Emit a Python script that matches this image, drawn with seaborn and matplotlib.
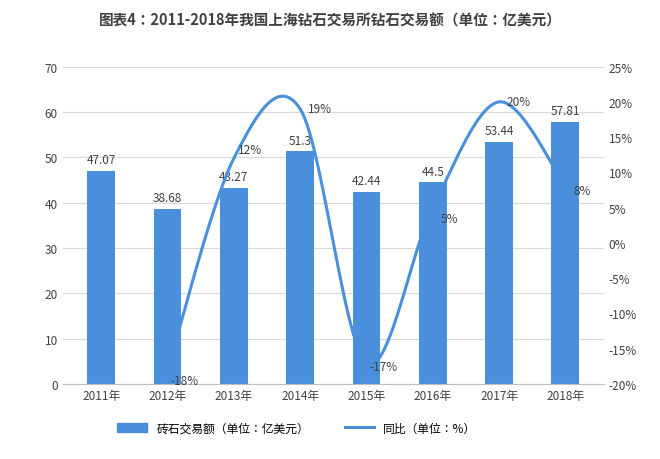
import numpy as np
import matplotlib
matplotlib.use("Agg")
import matplotlib.pyplot as plt
from matplotlib import font_manager as fm
import seaborn as sns
import pandas as pd

cjk = sorted({f.name for f in fm.fontManager.ttflist if "CJK" in f.name})
sans = [n for n in cjk if "Sans" in n]
fam = next((n for n in sans if n.endswith("SC")), sans[0] if sans else (cjk[0] if cjk else "DejaVu Sans"))
plt.rcParams["font.family"] = [fam, "DejaVu Sans"]

years = ["2011年", "2012年", "2013年", "2014年", "2015年", "2016年", "2017年", "2018年"]
amount = [47.07, 38.68, 43.27, 51.3, 42.44, 44.5, 53.44, 57.81]
yoy_years = ["2012年", "2013年", "2014年", "2015年", "2016年", "2017年", "2018年"]
yoy = [-18, 12, 19, -17, 5, 20, 8]

color = "#4a8fdc"
fig = plt.figure(figsize=(6.6, 4.6), dpi=100)
ax = fig.add_axes([0.095, 0.163, 0.82, 0.69])
df = pd.DataFrame({"year": years, "amount": amount})
sns.barplot(data=df, x="year", y="amount", color=color, width=0.42, ax=ax, saturation=1)
ax.set_ylim(0, 70)
ax.set_yticks(range(0, 71, 10))
ax.grid(axis="y", color="#d9d9d9", lw=0.8)
ax.set_axisbelow(True)
for s in ["top", "right", "left"]:
    ax.spines[s].set_visible(False)
ax.spines["bottom"].set_color("#bfbfbf")
ax.tick_params(length=0, labelsize=8.5, colors="#404040")
ax.set_xlabel(""); ax.set_ylabel("")
for i, v in enumerate(amount):
    ax.text(i, v + 1, f"{v:g}", ha="center", va="bottom", fontsize=8.5, color="#404040")

ax2 = ax.twinx()
x = np.array([years.index(y) for y in yoy_years], float)
yv = np.array(yoy, float)
pts_x, pts_y = [], []
px = np.concatenate([[x[0]], x, [x[-1]]]); py = np.concatenate([[yv[0]], yv, [yv[-1]]])
for i in range(1, len(px) - 2):
    t = np.linspace(0, 1, 30)
    for P, out in ((px, pts_x), (py, pts_y)):
        p0, p1, p2, p3 = P[i-1], P[i], P[i+1], P[i+2]
        out.extend(0.5 * ((2*p1) + (-p0+p2)*t + (2*p0-5*p1+4*p2-p3)*t**2 + (-p0+3*p1-3*p2+p3)*t**3))
sns.lineplot(x=pts_x, y=pts_y, color=color, lw=2.2, ax=ax2, sort=False)
ax2.set_ylim(-20, 25)
ax2.set_yticks(range(-20, 26, 5))
ax2.set_yticklabels([f"{v}%" for v in range(-20, 26, 5)])
for s in ["top", "right", "left", "bottom"]:
    ax2.spines[s].set_visible(False)
ax2.tick_params(length=0, labelsize=8.5, colors="#404040")
offs = {-18: (0.25, -1.5), 12: (0.25, 1.2), 19: (0.3, 0), -17: (0.25, -0.5), 5: (0.25, -1.5), 20: (0.3, 0), 8: (0.25, -0.5)}
for xi, v in zip(x, yv):
    dx, dy = offs[int(v)]
    ax2.text(xi + dx, v + dy, f"{int(v)}%", ha="center", va="center", fontsize=8.5, color="#404040")

from matplotlib.patches import Patch
from matplotlib.lines import Line2D
fig.legend(handles=[Patch(color=color), Line2D([], [], color=color, lw=2.2)],
           labels=["砖石交易额（单位：亿美元）", "同比（单位：%）"], loc="lower center",
           bbox_to_anchor=(0.45, 0.03), ncol=2, frameon=False, fontsize=8.5, handlelength=2.5, columnspacing=3)
fig.text(0.5, 0.955, "图表4：2011-2018年我国上海钻石交易所钻石交易额（单位：亿美元）", ha="center", va="center",
         fontsize=10.5, fontweight="bold", color="#404040")
fig.savefig("out.png", dpi=100)
